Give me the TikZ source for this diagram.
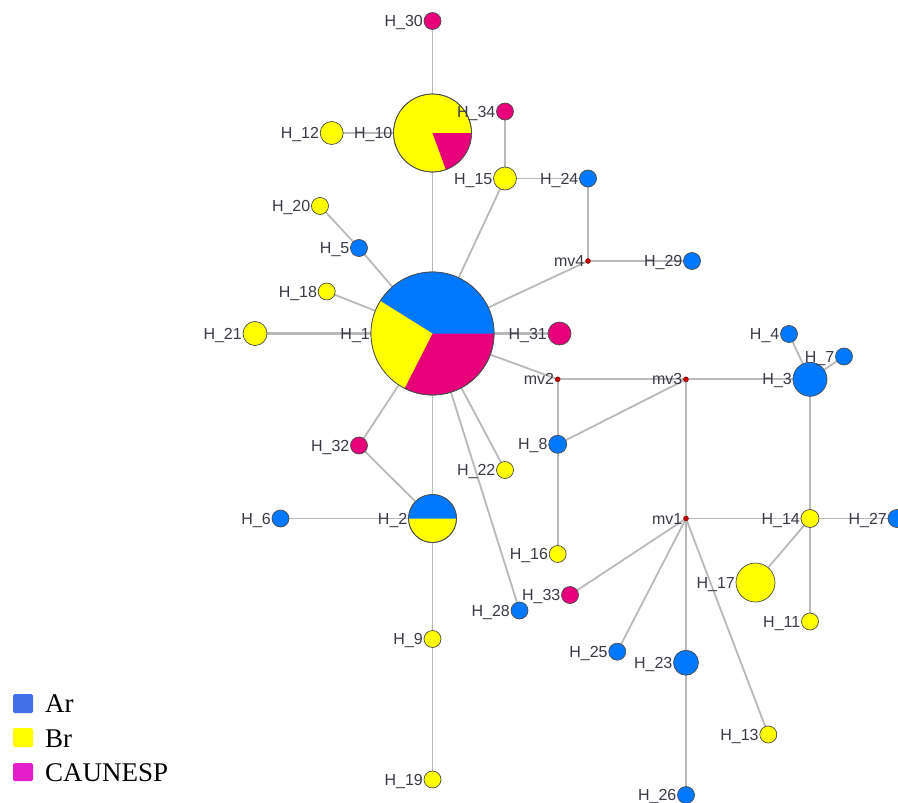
\documentclass[tikz,border=0pt]{standalone}
\usepackage{fontspec}
\setmainfont{Liberation Serif}
\newfontfamily\lblfont{Liberation Sans}
\usetikzlibrary{backgrounds}
\definecolor{hblue}{RGB}{0,120,255}
\definecolor{hyel}{RGB}{255,255,0}
\definecolor{hmag}{RGB}{232,0,122}
\definecolor{edgegray}{RGB}{185,185,185}
\definecolor{txtgray}{RGB}{58,58,70}
\definecolor{legblue}{RGB}{66,112,232}
\definecolor{legmag}{RGB}{228,30,200}
\definecolor{mvred}{RGB}{200,0,0}
\tikzset{
  hap/.style={circle, draw=black!70, line width=0.7pt, inner sep=0pt, outer sep=0pt, minimum size=#1},
  lbl/.style={font=\lblfont\fontsize{16}{16}\selectfont, text=txtgray, inner sep=0pt, text depth=0pt},
  link/.style={draw=edgegray, line width=1.8pt},
  heavylink/.style={draw=edgegray, line width=2.8pt},
  mvdot/.style={circle, fill=mvred, draw=red!40!black, line width=0.4pt, inner sep=0pt, outer sep=0pt, minimum size=5pt},
  legtext/.style={font=\fontsize{27}{27}\selectfont, anchor=base west, inner sep=0pt},
}
% haplotype node: name, text, position, diameter, colour
\newcommand\hapnode[5]{\node[hap=#4, fill=#5, label={[lbl]left:#2}] (#1) at (#3) {};}
\newcommand\mvnode[3]{\node[mvdot, label={[lbl]left:#2}] (#1) at (#3) {};}
\begin{document}
\begin{tikzpicture}[x=1pt, y=-1pt, label distance=1pt]
\useasboundingbox (0,0) rectangle (898,803);

% median vectors
\mvnode{mv1}{mv1}{686,518.5}
\mvnode{mv2}{mv2}{557.7,379.3}
\mvnode{mv3}{mv3}{686,379.3}
\mvnode{mv4}{mv4}{588,261}

% haplotypes with pie charts (y axis points down, so angles run clockwise)
\hapnode{h1}{H\_1}{432.5,333.5}{123pt}{hmag}
\fill[hblue] (h1.center) -- ++(0:61.5) arc[start angle=0, end angle=-148, radius=61.5] -- cycle;
\fill[hyel] (h1.center) -- ++(-148:61.5) arc[start angle=-148, end angle=-243, radius=61.5] -- cycle;
\draw[black!70, line width=0.7pt] (h1) circle[radius=61.5];

\hapnode{h10}{H\_10}{432.5,133}{78pt}{hyel}
\fill[hmag] (h10.center) -- ++(0:39) arc[start angle=0, end angle=70, radius=39] -- cycle;
\draw[black!70, line width=0.7pt] (h10) circle[radius=39];

\hapnode{h2}{H\_2}{432.5,518.5}{48pt}{hyel}
\fill[hblue] (h2.center) -- ++(0:24) arc[start angle=0, end angle=-180, radius=24] -- cycle;
\draw[black!70, line width=0.7pt] (h2) circle[radius=24];

% single-population haplotypes
\hapnode{h30}{H\_30}{432.5,21}{17pt}{hmag}
\hapnode{h12}{H\_12}{331.7,133}{23pt}{hyel}
\hapnode{h34}{H\_34}{505,111.5}{17pt}{hmag}
\hapnode{h15}{H\_15}{505,178.5}{23pt}{hyel}
\hapnode{h24}{H\_24}{588,178.5}{17pt}{hblue}
\hapnode{h29}{H\_29}{692,261}{17pt}{hblue}
\hapnode{h20}{H\_20}{320,206}{17pt}{hyel}
\hapnode{h5}{H\_5}{359,248}{17pt}{hblue}
\hapnode{h18}{H\_18}{326.7,291.5}{17pt}{hyel}
\hapnode{h21}{H\_21}{255,333.5}{24pt}{hyel}
\hapnode{h31}{H\_31}{559.5,333.5}{23pt}{hmag}
\hapnode{h3}{H\_3}{810,379.3}{34pt}{hblue}
\hapnode{h4}{H\_4}{789,334}{17pt}{hblue}
\hapnode{h7}{H\_7}{844,356.5}{17pt}{hblue}
\hapnode{h8}{H\_8}{557.7,444.3}{18pt}{hblue}
\hapnode{h32}{H\_32}{359,445.5}{17pt}{hmag}
\hapnode{h22}{H\_22}{505,470}{17pt}{hyel}
\hapnode{h6}{H\_6}{280.5,518.5}{17pt}{hblue}
\hapnode{h16}{H\_16}{557.7,554}{17pt}{hyel}
\hapnode{h14}{H\_14}{810,518.5}{18pt}{hyel}
\hapnode{h27}{H\_27}{897,518.5}{18pt}{hblue}
\hapnode{h17}{H\_17}{755.5,582.5}{39pt}{hyel}
\hapnode{h11}{H\_11}{810,621.5}{17pt}{hyel}
\hapnode{h33}{H\_33}{570,595}{17pt}{hmag}
\hapnode{h28}{H\_28}{519.5,610.5}{17pt}{hblue}
\hapnode{h9}{H\_9}{432.5,639}{17pt}{hyel}
\hapnode{h25}{H\_25}{617.3,651.7}{17pt}{hblue}
\hapnode{h23}{H\_23}{686,662.7}{25pt}{hblue}
\hapnode{h13}{H\_13}{768.3,734.5}{17pt}{hyel}
\hapnode{h19}{H\_19}{432.5,779.5}{17pt}{hyel}
\hapnode{h26}{H\_26}{686,795}{17pt}{hblue}

% connections
\begin{pgfonlayer}{background}
\draw[link] (h30) -- (h10);
\draw[link] (h10) -- (h1);
\draw[link] (h12) -- (h10);
\draw[link] (h34) -- (h15);
\draw[link] (h15) -- (h24);
\draw[link] (h15) -- (h1);
\draw[link] (h24) -- (mv4);
\draw[link] (mv4) -- (h29);
\draw[link] (mv4) -- (h1);
\draw[link] (h20) -- (h5);
\draw[link] (h5) -- (h1);
\draw[link] (h18) -- (h1);
\draw[heavylink] (h21) -- (h1);
\draw[heavylink] (h1) -- (h31);
\draw[link] (h1) -- (mv2);
\draw[link] (h1) -- (h32);
\draw[link] (h32) -- (h2);
\draw[link] (h1) -- (h2);
\draw[link] (h1) -- (h22);
\draw[link] (h1) -- (h28);
\draw[link] (mv2) -- (mv3);
\draw[link] (mv2) -- (h8);
\draw[link] (h8) -- (mv3);
\draw[link] (h8) -- (h16);
\draw[link] (mv3) -- (h3);
\draw[link] (mv3) -- (mv1);
\draw[link] (h3) -- (h4);
\draw[link] (h3) -- (h7);
\draw[link] (h3) -- (h14);
\draw[link] (mv1) -- (h14);
\draw[link] (h14) -- (h27);
\draw[link] (h14) -- (h17);
\draw[link] (h14) -- (h11);
\draw[link] (mv1) -- (h33);
\draw[link] (mv1) -- (h25);
\draw[heavylink] (mv1) -- (h23);
\draw[link] (mv1) -- (h13);
\draw[heavylink] (h23) -- (h26);
\draw[link] (h2) -- (h6);
\draw[link] (h2) -- (h9);
\draw[link] (h9) -- (h19);
\end{pgfonlayer}

% legend
\fill[legblue, rounded corners=1.5pt] (13,694) rectangle (33,713);
\fill[hyel, rounded corners=1.5pt] (13,728) rectangle (33,747);
\fill[legmag, rounded corners=1.5pt] (13,763) rectangle (33,781);
\node[legtext] (legAr) at (45,712.7) {Ar};
\node[legtext] (legBr) at (45,747.3) {Br};
\node[legtext] (legCA) at (45,781.7) {CAUNESP};
\end{tikzpicture}
\end{document}
